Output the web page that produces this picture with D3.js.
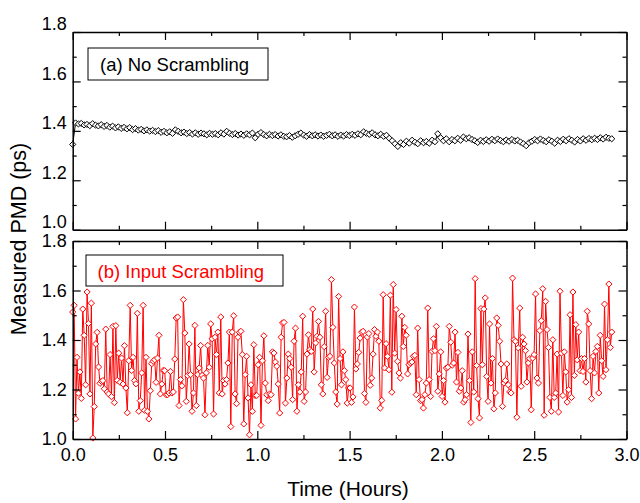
<!DOCTYPE html>
<html>
<head>
<meta charset="utf-8">
<script src="https://cdn.jsdelivr.net/npm/d3@7"></script>
<style>
  html, body { margin: 0; padding: 0; background: #fff; }
  svg { display: block; font-family: Arial, "Liberation Sans", sans-serif; }
</style>
</head>
<body>
<svg id="chart" width="640" height="503"></svg>
<script>
// ---------------- DATA ----------------
const timeStart = 0.0;   // hours
const timeEnd = 2.92;    // hours (last sample)

const xTickValues = [0.0, 0.5, 1.0, 1.5, 2.0, 2.5, 3.0];
const yTickValues = [1.0, 1.2, 1.4, 1.6, 1.8];

const panelALabel = "(a) No Scrambling";
const panelBLabel = "(b) Input Scrambling";
const xTitle = "Time (Hours)";
const yTitle = "Measured PMD (ps)";

// (a) No scrambling - measured PMD (ps)
const noScramblingPMD = [
  1.345, 1.432, 1.428, 1.430, 1.424, 1.426, 1.421, 1.429, 1.423, 1.420,
  1.425, 1.418, 1.422, 1.415, 1.419, 1.412, 1.416, 1.410, 1.414, 1.408,
  1.413, 1.405, 1.409, 1.403, 1.406, 1.400, 1.404, 1.399, 1.402, 1.397,
  1.401, 1.394, 1.398, 1.392, 1.396, 1.390, 1.404, 1.398, 1.392, 1.395,
  1.389, 1.393, 1.387, 1.392, 1.386, 1.391, 1.388, 1.384, 1.390, 1.386,
  1.389, 1.384, 1.392, 1.387, 1.398, 1.390, 1.385, 1.389, 1.383, 1.387,
  1.382, 1.388, 1.384, 1.391, 1.372, 1.386, 1.393, 1.385, 1.380, 1.386,
  1.381, 1.385, 1.379, 1.384, 1.378, 1.376, 1.381, 1.374, 1.380, 1.386,
  1.391, 1.383, 1.378, 1.385, 1.380, 1.384, 1.379, 1.383, 1.378, 1.382,
  1.386, 1.380, 1.384, 1.378, 1.383, 1.379, 1.385, 1.381, 1.386, 1.382,
  1.388, 1.384, 1.396, 1.390, 1.386, 1.392, 1.384, 1.380, 1.386, 1.378,
  1.382, 1.370, 1.360, 1.348, 1.337, 1.352, 1.345, 1.358, 1.350, 1.362,
  1.354, 1.348, 1.360, 1.352, 1.357, 1.350, 1.362, 1.356, 1.388, 1.372,
  1.360, 1.368, 1.356, 1.365, 1.360, 1.370, 1.362, 1.375, 1.368, 1.372,
  1.365, 1.360, 1.353, 1.362, 1.357, 1.364, 1.358, 1.366, 1.360, 1.367,
  1.361, 1.356, 1.363, 1.358, 1.365, 1.359, 1.362, 1.355, 1.348, 1.340,
  1.352, 1.358, 1.365, 1.360, 1.367, 1.361, 1.356, 1.364, 1.358, 1.350,
  1.362, 1.357, 1.366, 1.360, 1.368, 1.362, 1.355, 1.365, 1.359, 1.368,
  1.362, 1.369, 1.364, 1.370, 1.365, 1.372, 1.367, 1.374, 1.370, 1.368
];

// (b) Input scrambling - measured PMD (ps)
const inputScramblingPMD = [
  1.513, 1.540, 1.081, 1.330, 1.185, 1.271, 1.164, 1.525, 1.419, 1.219,
  1.594, 1.467, 1.182, 1.549, 1.004, 1.131, 1.384, 1.431, 1.291, 1.225,
  1.233, 1.236, 1.203, 1.444, 1.190, 1.182, 1.341, 1.171, 1.455, 1.147,
  1.458, 1.237, 1.347, 1.229, 1.327, 1.222, 1.377, 1.206, 1.106, 1.316,
  1.540, 1.277, 1.330, 1.236, 1.223, 1.508, 1.112, 1.155, 1.267, 1.540,
  1.116, 1.330, 1.112, 1.081, 1.195, 1.304, 1.314, 1.320, 1.229, 1.327,
  1.419, 1.182, 1.222, 1.277,
  1.276, 1.179, 1.179, 1.186, 1.273, 1.186, 1.190, 1.323, 1.489, 1.493,
  1.135, 1.240, 1.215, 1.563, 1.428, 1.152, 1.256, 1.384, 1.260, 1.112,
  1.186, 1.459, 1.135, 1.260, 1.287, 1.378, 1.257, 1.246, 1.098, 1.267,
  1.378, 1.290, 1.465, 1.405, 1.101, 1.411, 1.341, 1.432, 1.186, 1.493,
  1.182, 1.236, 1.222, 1.240, 1.307, 1.432, 1.050, 1.432, 1.498, 1.182,
  1.143, 1.411, 1.431, 1.435, 1.341, 1.061, 1.260, 1.334, 1.166, 1.017,
  1.219, 1.112, 1.381,
  1.176, 1.176, 1.300, 1.330, 1.055, 1.316, 1.417, 1.226, 1.179,
  1.155, 1.182, 1.179, 1.352, 1.347, 1.311, 1.294, 1.222, 1.105, 1.411,
  1.469, 1.471, 1.145, 1.246, 1.343, 1.325, 1.290, 1.159, 1.395, 1.448,
  1.112, 1.219, 1.190, 1.271, 1.496, 1.152, 1.190, 1.343, 1.421, 1.361,
  1.354, 1.525, 1.271, 1.388, 1.415, 1.475, 1.411, 1.219, 1.182, 1.373,
  1.516, 1.249, 1.330, 1.334, 1.644, 1.451, 1.307, 1.190, 1.141, 1.576,
  1.325, 1.219, 1.352, 1.276, 1.240, 1.145, 1.206,
  1.206, 1.148, 1.170, 1.533, 1.283, 1.303, 1.350, 1.408, 1.432, 1.435,
  1.184, 1.148, 1.412, 1.426, 1.217, 1.246, 1.343, 1.442, 1.415, 1.432,
  1.395, 1.125, 1.156, 1.583, 1.287, 1.385, 1.334, 1.280, 1.581, 1.189,
  1.624, 1.347, 1.523, 1.314, 1.267, 1.246, 1.496, 1.374, 1.451, 1.419,
  1.263, 1.300, 1.307, 1.311, 1.334, 1.338, 1.179, 1.448, 1.240, 1.155,
  1.159, 1.125, 1.179, 1.226, 1.529, 1.240, 1.172, 1.354, 1.405, 1.357,
  1.455, 1.193, 1.263, 1.352, 1.172, 1.236, 1.149, 1.287,
  1.290, 1.455, 1.391, 1.298, 1.307, 1.432, 1.230, 1.350, 1.193, 1.206,
  1.276, 1.149, 1.159, 1.179, 1.424, 1.236, 1.067, 1.352, 1.190, 1.648,
  1.297, 1.163, 1.085, 1.527, 1.300, 1.525, 1.570, 1.253, 1.152, 1.465,
  1.226, 1.325, 1.122, 1.186, 1.489, 1.459, 1.395, 1.303, 1.132, 1.226,
  1.236, 1.303, 1.219, 1.190, 1.186, 1.650, 1.401, 1.395, 1.088, 1.368,
  1.529, 1.213, 1.411, 1.384, 1.357, 1.230, 1.307, 1.325, 1.118, 1.327,
  1.341, 1.586, 1.246, 1.226, 1.438, 1.478, 1.607,
  1.096, 1.556, 1.442, 1.370, 1.168, 1.112, 1.401, 1.168, 1.186, 1.343,
  1.109, 1.597, 1.347, 1.176, 1.352, 1.271, 1.149, 1.199, 1.502, 1.168,
  1.594, 1.257, 1.462, 1.320, 1.432, 1.276, 1.325, 1.273, 1.325, 1.230,
  1.516, 1.465, 1.276, 1.163, 1.334, 1.267, 1.354, 1.374, 1.186, 1.419,
  1.316, 1.253, 1.545, 1.280, 1.401, 1.626, 1.370, 1.432
];

// ---------------- CHART ----------------
const svg = d3.select("#chart");
const xLeft = 72.7, xRight = 626.5;

const x = d3.scaleLinear().domain([0, 3]).range([xLeft, xRight]);

const panels = [
  { values: noScramblingPMD, color: "#000000", top: 32, bottom: 229.7,
    label: panelALabel, box: [88, 48, 180, 32], textX: 100, textY: 71,
    labelShift: -8, xLabels: false },
  { values: inputScramblingPMD, color: "#ff0000", top: 241, bottom: 439,
    label: panelBLabel, box: [86, 255, 197, 31], textX: 97.5, textY: 277.5,
    labelShift: 0, xLabels: true }
];

const xMinor = d3.range(0.25, 3, 0.5);
const yMinor = d3.range(1.1, 1.8, 0.2);

function styleAxis(g) {
  g.selectAll("path.domain").attr("stroke", "#000").attr("stroke-width", 1.5);
  g.selectAll(".tick line").attr("stroke", "#000").attr("stroke-width", 1.2);
  g.selectAll(".tick text").attr("fill", "#000")
    .style("font-family", "Arial, 'Liberation Sans', sans-serif")
    .style("font-size", "18px");
}

panels.forEach(p => {
  const y = d3.scaleLinear().domain([1.0, 1.8]).range([p.bottom, p.top]);
  const n = p.values.length;
  const pts = p.values.map((v, i) => ({ t: timeStart + i * (timeEnd - timeStart) / (n - 1), v }));

  const g = svg.append("g");

  // data line
  g.append("path")
    .datum(pts)
    .attr("fill", "none")
    .attr("stroke", p.color)
    .attr("stroke-width", 1)
    .attr("d", d3.line().x(d => x(d.t)).y(d => y(d.v)));

  // diamond markers
  const r = 3.1;
  g.selectAll("path.mk")
    .data(pts)
    .join("path")
    .attr("class", "mk")
    .attr("d", `M0,${-r}L${r},0L0,${r}L${-r},0Z`)
    .attr("transform", d => `translate(${x(d.t)},${y(d.v)})`)
    .attr("fill", "#fff")
    .attr("stroke", p.color)
    .attr("stroke-width", 1);

  // axes: bottom
  const gb = g.append("g").attr("transform", `translate(0,${p.bottom})`)
    .call(d3.axisBottom(x).tickValues(xTickValues).tickSizeInner(-8).tickSizeOuter(0)
      .tickPadding(9).tickFormat(p.xLabels ? d3.format(".1f") : () => ""));
  styleAxis(gb);
  const gbm = g.append("g").attr("transform", `translate(0,${p.bottom})`)
    .call(d3.axisBottom(x).tickValues(xMinor).tickSizeInner(-4).tickSizeOuter(0).tickFormat(() => ""));
  gbm.select("path.domain").remove();
  styleAxis(gbm);

  // top
  const gt = g.append("g").attr("transform", `translate(0,${p.top})`)
    .call(d3.axisTop(x).tickValues(xTickValues).tickSizeInner(-8).tickSizeOuter(0).tickFormat(() => ""));
  styleAxis(gt);
  const gtm = g.append("g").attr("transform", `translate(0,${p.top})`)
    .call(d3.axisTop(x).tickValues(xMinor).tickSizeInner(-4).tickSizeOuter(0).tickFormat(() => ""));
  gtm.select("path.domain").remove();
  styleAxis(gtm);

  // left
  const gl = g.append("g").attr("transform", `translate(${xLeft},0)`)
    .call(d3.axisLeft(y).tickValues(yTickValues).tickSizeInner(-8).tickSizeOuter(0)
      .tickPadding(6).tickFormat(d3.format(".1f")));
  styleAxis(gl);
  gl.selectAll(".tick text").attr("transform", `translate(0,${p.labelShift})`);
  const glm = g.append("g").attr("transform", `translate(${xLeft},0)`)
    .call(d3.axisLeft(y).tickValues(yMinor).tickSizeInner(-4).tickSizeOuter(0).tickFormat(() => ""));
  glm.select("path.domain").remove();
  styleAxis(glm);

  // right
  const gr = g.append("g").attr("transform", `translate(${xRight},0)`)
    .call(d3.axisRight(y).tickValues(yTickValues).tickSizeInner(-8).tickSizeOuter(0).tickFormat(() => ""));
  styleAxis(gr);
  const grm = g.append("g").attr("transform", `translate(${xRight},0)`)
    .call(d3.axisRight(y).tickValues(yMinor).tickSizeInner(-4).tickSizeOuter(0).tickFormat(() => ""));
  grm.select("path.domain").remove();
  styleAxis(grm);

  // legend box
  g.append("rect")
    .attr("x", p.box[0]).attr("y", p.box[1])
    .attr("width", p.box[2]).attr("height", p.box[3])
    .attr("fill", "#fff").attr("stroke", "#000").attr("stroke-width", 1);
  g.append("text")
    .attr("x", p.textX).attr("y", p.textY)
    .attr("fill", p.color)
    .style("font-size", "18.5px")
    .text(p.label);
});

// axis titles
svg.append("text")
  .attr("x", 348).attr("y", 496)
  .attr("text-anchor", "middle")
  .style("font-size", "21px")
  .attr("fill", "#000")
  .text(xTitle);

svg.append("text")
  .attr("transform", "translate(26,239) rotate(-90)")
  .attr("text-anchor", "middle")
  .style("font-size", "21.5px")
  .attr("fill", "#000")
  .text(yTitle);
</script>
</body>
</html>
